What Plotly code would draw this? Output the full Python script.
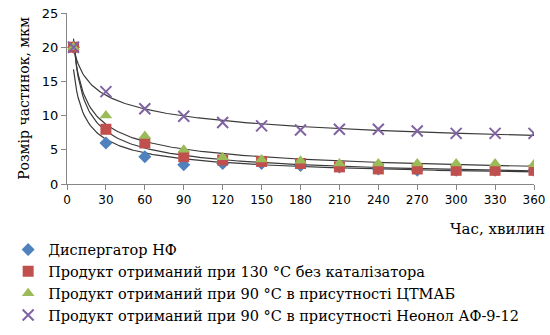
import numpy as np
import plotly.graph_objects as go

time_min = [5, 30, 60, 90, 120, 150, 180, 210, 240, 270, 300, 330, 360]
disp_nf = [20, 6, 4, 2.8, 3, 3, 2.7, 2.5, 2.2, 2.0, 2.0, 2.0, 2.0]
prod_130 = [20, 8, 6, 4, 3.5, 3.3, 3, 2.5, 2.2, 2.2, 2.0, 2.0, 2.0]
prod_90_ctmab = [20, 10, 7, 5, 3.9, 3.6, 3.4, 3.0, 3.0, 3.0, 3.0, 3.0, 2.9]
prod_90_neonol = [20, 13.5, 11, 9.9, 9.0, 8.5, 7.9, 8.0, 8.0, 7.75, 7.4, 7.4, 7.4]

names = [
    "Диспергатор НФ",
    "Продукт отриманий при 130 °С без каталізатора",
    "Продукт отриманий при 90 °С в присутності ЦТМАБ",
    "Продукт отриманий при 90 °С в присутності Неонол АФ-9-12",
]
series = [disp_nf, prod_130, prod_90_ctmab, prod_90_neonol]
colors = ["#4F81BD", "#C0504D", "#9BBB59", "#8064A2"]
symbols = ["diamond", "square", "triangle-up", "x-thin-open"]
sizes = [10, 11, 11, 11]

SERIF = "DejaVu Serif"
SANS = "DejaVu Sans"

fig = go.Figure()
xs = np.array(time_min, dtype=float)
xfit = np.linspace(xs.min(), xs.max(), 300)
for i, ys in enumerate(series):
    b, loga = np.polyfit(np.log(xs), np.log(np.array(ys, dtype=float)), 1)
    yfit = np.exp(loga) * xfit ** b
    fig.add_trace(go.Scatter(x=xfit, y=yfit, mode="lines",
                             line=dict(color="#3a3a3a", width=1.2),
                             showlegend=False, hoverinfo="skip"))

for i, ys in enumerate(series):
    mk = dict(symbol=symbols[i], size=sizes[i], color=colors[i])
    if symbols[i] == "x-thin-open":
        mk["line"] = dict(color=colors[i], width=2)
    else:
        mk["line"] = dict(width=0)
    fig.add_trace(go.Scatter(x=time_min, y=ys, mode="markers", name=names[i],
                             marker=mk, legendgroup=f"g{i}"))

fig.update_layout(
    width=550, height=335,
    margin=dict(l=67, r=16, t=13, b=151, autoexpand=False),
    paper_bgcolor="white", plot_bgcolor="white",
    font=dict(family=SERIF, size=15, color="#000000"),
    legend=dict(x=-0.126, y=-0.29, xanchor="left", yanchor="top",
                orientation="v", tracegroupgap=0,
                font=dict(family=SERIF, size=14.5),
                itemwidth=30),
    xaxis=dict(range=[0, 360], tickmode="array",
               tickvals=[0, 30, 60, 90, 120, 150, 180, 210, 240, 270, 300, 330, 360],
               showline=True, linecolor="#868686", linewidth=1,
               ticks="outside", ticklen=5, tickcolor="#868686",
               showgrid=False, zeroline=False, automargin=False,
               ticklabeloverflow="allow",
               tickfont=dict(family=SANS, size=12)),
    yaxis=dict(range=[0, 25], dtick=5,
               showline=True, linecolor="#868686", linewidth=1,
               ticks="outside", ticklen=5, tickcolor="#868686",
               showgrid=False, zeroline=False, automargin=False,
               ticklabeloverflow="allow",
               tickfont=dict(family=SANS, size=13),
               title=dict(text="Розмір частинок, мкм",
                          font=dict(family=SERIF, size=14),
                          standoff=8)),
)
fig.add_annotation(text="Час, хвилин", xref="paper", yref="paper",
                   x=1.028, y=-0.263, xanchor="right", yanchor="middle",
                   showarrow=False,
                   font=dict(family=SERIF, size=15))

fig.write_html("out.html", config={"displayModeBar": False},
               post_script="document.body.style.margin='0';")
